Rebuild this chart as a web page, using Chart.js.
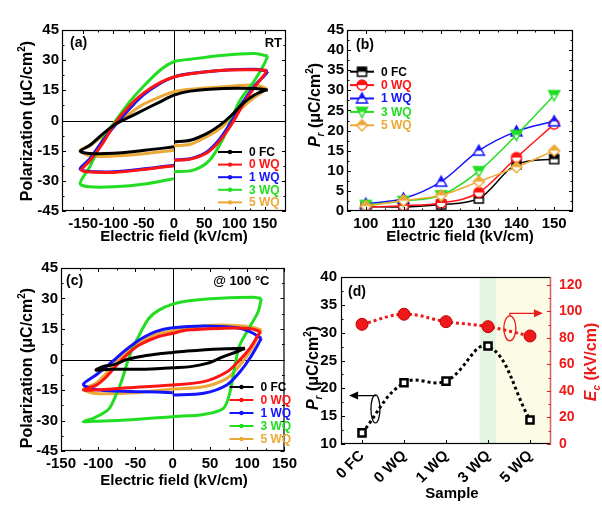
<!DOCTYPE html>
<html>
<head>
<meta charset="utf-8">
<script src="https://cdn.jsdelivr.net/npm/chart.js@4.4.0/dist/chart.umd.min.js"></script>
<style>
html, body { margin: 0; padding: 0; background: #fff; }
#wrap { position: relative; width: 602px; height: 512px; }
.p { position: absolute; width: 301px; height: 256px; }
</style>
</head>
<body>
<div id="wrap">
  <div class="p" style="left:0;top:0"><canvas id="ca" width="301" height="256"></canvas></div>
  <div class="p" style="left:301px;top:0"><canvas id="cb" width="301" height="256"></canvas></div>
  <div class="p" style="left:0;top:256px"><canvas id="cc" width="301" height="256"></canvas></div>
  <div class="p" style="left:301px;top:256px"><canvas id="cd" width="301" height="256"></canvas></div>
</div>
<script>
// ---- data ----
const sampleNames = ['0 FC', '0 WQ', '1 WQ', '3 WQ', '5 WQ'];

// (a) P-E loops at room temperature, [E (kV/cm), P (uC/cm2)]; null = break in the trace at E = 0
const rt0FC = [[155,15.2],[134,15.9],[82,15.9],[27,14.6],[0,12.6],[-23,9.3],[-51,5.1],[-73,1.8],[-95,-1.5],[-117,-6.5],[-139,-12.3],[-155,-15.3],[-139,-16.4],[-100,-16.3],[-45,-14.7],[0,-13.1],null,[0,-10.6],[27,-9.8],[54,-6.5],[76,-2.3],[95,2.6],[114,8.5],[134,12.9],[150,15],[155,15.2]];
const rt0WQ = [[153,25],[134,25.2],[82,25],[27,23.2],[0,21.6],[-23,18.8],[-51,13.5],[-73,7.5],[-98,-1.5],[-117,-11],[-139,-20],[-153,-24.5],[-145,-25.5],[-100,-25.8],[-45,-24.2],[0,-22.5],null,[0,-19.8],[27,-19.2],[54,-16.2],[76,-10],[97,-1],[114,8],[134,17],[150,23],[153,25]];
const rt1WQ = [[155,24.5],[134,25.5],[82,25],[27,23.4],[0,21.7],[-23,18.4],[-51,12.6],[-73,6],[-95,-1.5],[-117,-9.8],[-139,-19],[-155,-24],[-145,-25.2],[-100,-25.5],[-45,-23.9],[0,-22.2],null,[0,-19.6],[27,-19],[54,-15.6],[76,-9],[95,-0.5],[114,9.3],[134,17.6],[150,22.5],[155,24.5]];
const rt3WQ = [[155,32],[134,33.3],[82,32.5],[27,30.5],[0,29.2],[-23,25],[-51,16.8],[-73,9.4],[-100,-1.5],[-117,-9],[-139,-23],[-155,-31.3],[-140,-33],[-100,-33],[-45,-31.4],[0,-28.9],null,[0,-25.5],[32,-24.7],[59,-19.7],[81,-9],[93,-0.5],[109,10],[131,19],[148,27.5],[155,32]];
const rt5WQ = [[153,16],[134,17.6],[82,16.8],[27,15.5],[0,14.3],[-23,11.8],[-51,8],[-73,3.5],[-95,-1.5],[-117,-7.3],[-139,-12.5],[-155,-14.8],[-139,-17.6],[-100,-17.7],[-45,-16.4],[0,-14.8],null,[0,-12.6],[27,-11.8],[54,-8.1],[76,-4],[95,1.3],[114,6.8],[134,11.8],[150,15],[153,16]];

// (c) P-E loops at 100 C
const ht0FC = [[97,5.5],[64,5.2],[19.5,4.2],[0,3.5],[-23,2.6],[-45,1.4],[-63,-0.2],[-78,-2.4],[-94,-3.5],[-103,-5.2],[-85,-4.8],[-41,-4.8],[0,-4],[24,-3.5],[46,-1.9],[68,1.4],[86,3.8],[97,5.5]];
const ht0WQ = [[117.7,13.7],[103.5,15.3],[64,15.3],[19.5,14.5],[0,12.9],[-20,11.2],[-45,7.1],[-62,2.2],[-75,-2.7],[-89,-8.5],[-102,-12.5],[-120,-15],[-102,-15],[-62,-13.9],[0,-12.5],[41.6,-10.9],[73,-6],[90,-0.2],[103.5,5.5],[114.6,12],[117.7,13.7]];
const ht1WQ = [[119,10.4],[103.5,13.7],[86,15.6],[41.6,16.5],[0,15.6],[-23,13.7],[-45,9.6],[-63,4.7],[-76,0.6],[-89,-3.5],[-103,-7.6],[-120,-12.2],[-107,-14.5],[-85,-15.4],[-41,-15.8],[0,-16.3],null,[0,-17.5],[41.6,-16.6],[72.6,-12.5],[90.3,-6],[103.5,0.6],[119,10.4]];
const ht3WQ = [[119,30.1],[108,30.6],[64,30.1],[19.5,28.8],[0,27.2],[-18.6,24.3],[-32,20.3],[-45,12],[-54,5.5],[-60.6,-1.1],[-69,-10.9],[-78,-19],[-85,-24],[-94,-26.6],[-107,-28.9],[-120,-30.6],[-107,-30.4],[-63,-29.8],[0,-28.1],[41.6,-27],[68,-24],[77,-15.8],[83.6,-2.7],[90,7.1],[103.5,16.1],[114.6,23.5],[119,30.1]];
const ht5WQ = [[119,14.5],[103.5,16.1],[63.7,17],[19.5,15.6],[0,14],[-23,12.4],[-45,8],[-63,3],[-76,-1.4],[-89,-6.8],[-103,-11.7],[-120,-14.5],[-107,-16.6],[-63,-16.6],[0,-14.5],[41.6,-13.4],[72.6,-9.3],[90.3,-2.7],[103.5,3.8],[114.6,11.2],[119,14.5]];

// (b) Pr vs field
const fieldB = [100, 110, 120, 130, 140, 150];
const prB0FC = [1.1, 1.0, 1.6, 3.1, 11.6, 12.9];
const prB0WQ = [1.0, 1.3, 2.0, 4.6, 13.3, 21.6];
const prB1WQ = [1.8, 3.1, 7.3, 15.0, 19.8, 22.3];
const prB3WQ = [1.5, 2.5, 3.9, 9.9, 18.9, 28.8];
const prB5WQ = [1.2, 2.6, 3.9, 7.3, 10.9, 15.0];

// (d) Pr and Ec per sample
const prD = [12.0, 21.0, 21.3, 27.6, 14.3];
const ecD = [90.3, 97.9, 92.3, 88.5, 81.5];
const greenBand = [2.8, 3.2];
const yellowBand = [3.2, 4.6];

// tick labels
const fieldTicks = [-150, -100, -50, 0, 50, 100, 150];
const polTicks = [-45, -30, -15, 0, 15, 30, 45];
const fieldTicksB = [100, 110, 120, 130, 140, 150];
const prTicksB = [0, 5, 10, 15, 20, 25, 30, 35, 40, 45];
const prTicksD = [10, 15, 20, 25, 30, 35, 40];
const ecTicksD = [0, 20, 40, 60, 80, 100, 120];

// ---- styles ----
const FONT = '"Liberation Sans", Arial, sans-serif';
const cBlack = '#000000', cRed = '#ff1414', cBlue = '#1414ff', cGreen = '#22dd22', cOrange = '#eba937';
const seriesColors = [cBlack, cRed, cBlue, cGreen, cOrange];

function halfMarker(shape, color, size) {
  const s = size + 4, m = s / 2, h = size / 2;
  const c = document.createElement('canvas');
  c.width = s; c.height = s;
  const g = c.getContext('2d');
  const path = () => {
    g.beginPath();
    if (shape === 'rect') g.rect(m - h, m - h, size, size);
    else if (shape === 'circle') g.arc(m, m, h, 0, Math.PI * 2);
    else if (shape === 'tri') { g.moveTo(m, m - h); g.lineTo(m + h, m + h * 0.8); g.lineTo(m - h, m + h * 0.8); g.closePath(); }
    else if (shape === 'dtri') { g.moveTo(m, m + h); g.lineTo(m + h, m - h * 0.8); g.lineTo(m - h, m - h * 0.8); g.closePath(); }
    else { g.moveTo(m, m - h); g.lineTo(m + h, m); g.lineTo(m, m + h); g.lineTo(m - h, m); g.closePath(); }
  };
  path(); g.fillStyle = '#fff'; g.fill();
  g.save(); path(); g.clip(); g.fillStyle = color; g.fillRect(0, 0, s, m); g.restore();
  path(); g.lineWidth = 1.5; g.strokeStyle = color; g.stroke();
  return c;
}
const markersB = [halfMarker('rect', cBlack, 9), halfMarker('circle', cRed, 10), halfMarker('tri', cBlue, 11), halfMarker('dtri', cGreen, 11), halfMarker('diamond', cOrange, 11)];

function rich(ctx, parts, x, y, rot, size, color) {
  ctx.save();
  ctx.translate(x, y); ctx.rotate(rot);
  ctx.fillStyle = color; ctx.textAlign = 'left'; ctx.textBaseline = 'alphabetic';
  const small = st => st.includes('sub') || st.includes('sup');
  const fnt = st => (st.startsWith('i') ? 'italic ' : '') + 'bold ' + (small(st) ? Math.round(size * 0.65) : size) + 'px ' + FONT;
  let w = 0;
  parts.forEach(([t, st]) => { ctx.font = fnt(st); w += ctx.measureText(t).width; });
  let cx = -w / 2;
  const base = size * 0.36;
  parts.forEach(([t, st]) => {
    ctx.font = fnt(st);
    const dy = st.includes('sub') ? size * 0.25 : st.includes('sup') ? -size * 0.4 : 0;
    ctx.fillText(t, cx, base + dy);
    cx += ctx.measureText(t).width;
  });
  ctx.restore();
}

const titlePol = [['Polarization (μC/cm', ''], ['2', 'sup'], [')', '']];
const titlePr = [['P', 'i'], ['r', 'isub'], [' (μC/cm', ''], ['2', 'sup'], [')', '']];
const titleEc = [['E', 'i'], ['c', 'isub'], [' (kV/cm)', '']];
const titleField = [['Electric field (kV/cm)', '']];

function tickMarks(ctx, scale, a, horiz, minor, sides, color) {
  const v = scale.ticks.map(t => t.value);
  const pos = [];
  v.forEach((val, i) => {
    pos.push([scale.getPixelForValue(val), 4]);
    if (minor && i < v.length - 1) pos.push([scale.getPixelForValue((val + v[i + 1]) / 2), 2.5]);
  });
  ctx.strokeStyle = color; ctx.lineWidth = 1;
  ctx.beginPath();
  pos.forEach(([p, len]) => {
    p = Math.round(p) + 0.5;
    if (horiz) {
      if (sides.includes('b')) { ctx.moveTo(p, a.bottom); ctx.lineTo(p, a.bottom - len); }
      if (sides.includes('t')) { ctx.moveTo(p, a.top); ctx.lineTo(p, a.top + len); }
    } else {
      if (sides.includes('l')) { ctx.moveTo(a.left, p); ctx.lineTo(a.left + len, p); }
      if (sides.includes('r')) { ctx.moveTo(a.right, p); ctx.lineTo(a.right - len, p); }
    }
  });
  ctx.stroke();
}

const deco = {
  id: 'deco',
  beforeDatasetsDraw(chart, args, o) {
    const { ctx, chartArea: a, scales } = chart;
    ctx.save();
    (o.bands || []).forEach(b => {
      const x0 = scales.x.getPixelForValue(b.range[0]);
      const x1 = Math.min(scales.x.getPixelForValue(b.range[1]), a.right);
      ctx.fillStyle = b.color;
      ctx.fillRect(x0, a.top, x1 - x0, a.bottom - a.top);
    });
    if (o.zero) {
      const x0 = Math.round(scales.x.getPixelForValue(0)) + 0.5;
      const y0 = Math.round(scales.y.getPixelForValue(0)) + 0.5;
      ctx.strokeStyle = '#000'; ctx.lineWidth = 1;
      ctx.beginPath();
      ctx.moveTo(x0, a.top); ctx.lineTo(x0, a.bottom);
      ctx.moveTo(a.left, y0); ctx.lineTo(a.right, y0);
      ctx.stroke();
    }
    ctx.restore();
  },
  afterDatasetsDraw(chart, args, o) {
    const { ctx, chartArea: a, scales } = chart;
    ctx.save();
    // frame
    ctx.strokeStyle = '#000'; ctx.lineWidth = 1.2;
    ctx.strokeRect(a.left + 0.5, a.top + 0.5, a.right - a.left - 1, a.bottom - a.top - 1);
    if (o.rightColor) {
      ctx.strokeStyle = o.rightColor;
      ctx.beginPath(); ctx.moveTo(a.right - 0.5, a.top); ctx.lineTo(a.right - 0.5, a.bottom); ctx.stroke();
    }
    (o.ticks || []).forEach(t => tickMarks(ctx, scales[t.id], a, t.horiz, t.minor, t.sides, t.color || '#000'));
    // notes (ellipses / arrows) in data coords
    (o.notes || []).forEach(n => {
      const sx = scales.x, sy = scales[n.axis];
      const cx = sx.getPixelForValue(n.at[0]), cy = sy.getPixelForValue(n.at[1]);
      ctx.strokeStyle = n.color; ctx.fillStyle = n.color; ctx.lineWidth = 1.3;
      ctx.beginPath(); ctx.ellipse(cx, cy, n.rx, n.ry, 0, 0, Math.PI * 2); ctx.stroke();
      const ay = sy.getPixelForValue(n.arrowY), ax = sx.getPixelForValue(n.arrowX);
      ctx.beginPath();
      ctx.moveTo(cx, cy - n.ry); ctx.lineTo(cx, ay); ctx.lineTo(ax, ay); ctx.stroke();
      const d = ax > cx ? 1 : -1;
      ctx.beginPath(); ctx.moveTo(ax + d * 2, ay); ctx.lineTo(ax - d * 7, ay - 4); ctx.lineTo(ax - d * 7, ay + 4); ctx.closePath(); ctx.fill();
    });
    // axis titles
    (o.titles || []).forEach(t => rich(ctx, t.parts, t.x, t.y, t.rot || 0, t.size, t.color || '#000'));
    // panel labels
    (o.labels || []).forEach(l => {
      ctx.font = 'bold ' + l.size + 'px ' + FONT;
      ctx.fillStyle = '#000'; ctx.textBaseline = 'middle'; ctx.textAlign = l.align;
      ctx.fillText(l.text, l.right ? a.right - l.dx : a.left + l.dx, a.top + l.dy);
    });
    // legend
    const lg = o.legend;
    if (lg) {
      const x0 = lg.fromRight ? a.right - lg.dx : a.left + lg.dx;
      const y0 = lg.fromBottom ? a.bottom - lg.dy : a.top + lg.dy;
      sampleNames.forEach((name, i) => {
        const y = y0 + i * lg.step, col = seriesColors[i];
        ctx.strokeStyle = col; ctx.lineWidth = 2;
        ctx.beginPath(); ctx.moveTo(x0, y); ctx.lineTo(x0 + lg.len, y); ctx.stroke();
        if (lg.markers) {
          const m = lg.markers[i];
          ctx.drawImage(m, x0 + lg.len / 2 - m.width / 2, y - m.height / 2);
        } else {
          ctx.fillStyle = col; ctx.beginPath(); ctx.arc(x0 + lg.len / 2, y, 2.2, 0, Math.PI * 2); ctx.fill();
        }
        ctx.font = 'bold 12px ' + FONT; ctx.fillStyle = col;
        ctx.textAlign = 'left'; ctx.textBaseline = 'middle';
        ctx.fillText(name, x0 + lg.len + 7, y + 0.5);
      });
    }
    ctx.restore();
  }
};

// ---- helpers ----
const noGrid = { display: false, drawTicks: false };
const tickFont = size => ({ font: { family: FONT, size: size, weight: 'bold' }, color: '#000', maxRotation: 0, autoSkip: false });
const fixTicks = list => s => { s.ticks = list.map(v => ({ value: v })); };
const base = {
  animation: false, responsive: false, devicePixelRatio: 1,
  elements: { point: { radius: 0 } }
};

function loopSet(pts, color) {
  return { data: pts.map(p => p ? { x: p[0], y: p[1] } : { x: 0, y: null }), borderColor: color, borderWidth: 3,
           pointRadius: 0, tension: 0.3, fill: false, spanGaps: false };
}

function loopChart(id, sets, xr, area, title2, legendDy) {
  return new Chart(document.getElementById(id), {
    type: 'line',
    data: { datasets: sets.map((s, i) => loopSet(s, seriesColors[i])) },
    options: {
      ...base,
      layout: { padding: { left: area.l - 40, top: area.t, right: 301 - area.r, bottom: 256 - area.b - 22 } },
      scales: {
        x: { type: 'linear', min: xr[0], max: xr[1], afterBuildTicks: fixTicks(fieldTicks), afterFit: s => { s.height = 22; },
             grid: noGrid, border: { display: false }, ticks: { ...tickFont(15), padding: 4 } },
        y: { type: 'linear', min: -45, max: 45, afterBuildTicks: fixTicks(polTicks), afterFit: s => { s.width = 40; },
             grid: noGrid, border: { display: false }, ticks: { ...tickFont(15), padding: 3 } }
      },
      plugins: {
        legend: { display: false }, tooltip: { enabled: false },
        deco: {
          zero: true,
          ticks: [{ id: 'x', horiz: true, minor: true, sides: 'bt' }, { id: 'y', horiz: false, minor: true, sides: 'lr' }],
          titles: [
            { parts: titlePol, x: 26, y: area.yTitle, rot: -Math.PI / 2, size: 16 },
            { parts: titleField, x: (area.l + area.r) / 2, y: area.xTitle, size: 15 }
          ],
          labels: [
            { text: area.tag, dx: area.tagDx, dy: 13, align: 'left', size: 14 },
            { text: title2, dx: area.t2Dx, dy: 13, align: 'right', right: true, size: 13 }
          ],
          legend: { fromRight: true, fromBottom: true, dx: area.lgDx, dy: legendDy, step: area.lgStep, len: 24 }
        }
      }
    },
    plugins: [deco]
  });
}

// (a)
loopChart('ca', [rt0FC, rt0WQ, rt1WQ, rt3WQ, rt5WQ], [-185, 185],
  { l: 62, r: 286, t: 30, b: 211, yTitle: 121, xTitle: 236, tag: '(a)', tagDx: 8, t2Dx: 4, lgDx: 68, lgStep: 12.6 }, 'RT', 59);

// (c)
loopChart('cc', [ht0FC, ht0WQ, ht1WQ, ht3WQ, ht5WQ], [-150, 150],
  { l: 61, r: 287, t: 12, b: 195, yTitle: 112, xTitle: 224, tag: '(c)', tagDx: 5, t2Dx: 15, lgDx: 55, lgStep: 13 }, '@ 100 °C', 64);

// (b)
const prB = [prB0FC, prB0WQ, prB1WQ, prB3WQ, prB5WQ];
new Chart(document.getElementById('cb'), {
  type: 'line',
  data: {
    datasets: prB.map((arr, i) => ({
      data: arr.map((v, k) => ({ x: fieldB[k], y: v })),
      borderColor: seriesColors[i], borderWidth: 1.5,
      pointStyle: markersB[i], pointRadius: 5,
      cubicInterpolationMode: 'monotone', fill: false
    })).reverse()
  },
  options: {
    ...base,
    layout: { padding: { left: 46 - 30, top: 30, right: 301 - 272, bottom: 256 - 211 - 22 } },
    scales: {
      x: { type: 'linear', min: 95, max: 155, afterBuildTicks: fixTicks(fieldTicksB), afterFit: s => { s.height = 22; },
           grid: noGrid, border: { display: false }, ticks: { ...tickFont(15), padding: 4 } },
      y: { type: 'linear', min: 0, max: 45, afterBuildTicks: fixTicks(prTicksB), afterFit: s => { s.width = 30; },
           grid: noGrid, border: { display: false }, ticks: { ...tickFont(15), padding: 3 } }
    },
    plugins: {
      legend: { display: false }, tooltip: { enabled: false },
      deco: {
        ticks: [{ id: 'x', horiz: true, minor: true, sides: 'bt' }, { id: 'y', horiz: false, minor: true, sides: 'lr' }],
        titles: [
          { parts: titlePr, x: 13, y: 105, rot: -Math.PI / 2, size: 16 },
          { parts: titleField, x: 159, y: 236, size: 15 }
        ],
        labels: [{ text: '(b)', dx: 9, dy: 15, align: 'left', size: 14 }],
        legend: { dx: 3, dy: 41.7, step: 13.4, len: 24, markers: markersB }
      }
    }
  },
  plugins: [deco]
});

// (d)
new Chart(document.getElementById('cd'), {
  type: 'line',
  data: {
    labels: sampleNames,
    datasets: [
      { data: prD, yAxisID: 'y', borderColor: cBlack, borderWidth: 3, borderDash: [3, 3], tension: 0.4,
        pointStyle: 'rect', pointRadius: 5, pointBackgroundColor: '#fff', pointBorderColor: cBlack, pointBorderWidth: 2.5 },
      { data: ecD, yAxisID: 'y2', borderColor: '#ee1a1a', borderWidth: 3, borderDash: [3, 3], tension: 0.4,
        pointStyle: 'circle', pointRadius: 6, pointBackgroundColor: '#ee1a1a', pointBorderColor: '#c00000', pointBorderWidth: 1 }
    ]
  },
  options: {
    ...base,
    layout: { padding: { left: 40 - 30, top: 21, right: 301 - 250 - 32, bottom: 256 - 188 - 40 } },
    scales: {
      x: { type: 'category', offset: true, afterFit: s => { s.height = 40; },
           grid: noGrid, border: { display: false },
           ticks: { font: { family: FONT, size: 15, weight: 'bold' }, color: '#000', minRotation: 45, maxRotation: 45, autoSkip: false, padding: 3 } },
      y: { type: 'linear', position: 'left', min: 10, max: 40, afterBuildTicks: fixTicks(prTicksD), afterFit: s => { s.width = 30; },
           grid: noGrid, border: { display: false }, ticks: { ...tickFont(15), padding: 4 } },
      y2: { type: 'linear', position: 'right', min: 0, max: 126, afterBuildTicks: fixTicks(ecTicksD), afterFit: s => { s.width = 32; },
            grid: noGrid, border: { display: false }, ticks: { ...tickFont(14), color: '#ee1a1a', padding: 8 } }
    },
    plugins: {
      legend: { display: false }, tooltip: { enabled: false },
      deco: {
        bands: [{ range: greenBand, color: '#e3f6e1' }, { range: yellowBand, color: '#fbfbe6' }],
        rightColor: '#ee6060',
        ticks: [{ id: 'x', horiz: true, minor: false, sides: 'b' }, { id: 'y', horiz: false, minor: true, sides: 'l' },
                { id: 'y2', horiz: false, minor: true, sides: 'r', color: '#ee1a1a' }],
        notes: [
          { axis: 'y', at: [0.32, 16.3], rx: 4.5, ry: 14, arrowY: 18.7, arrowX: -0.26, color: '#000' },
          { axis: 'y2', at: [3.52, 87.3], rx: 6, ry: 12.5, arrowY: 98.6, arrowX: 4.26, color: '#ee1a1a' }
        ],
        titles: [
          { parts: titlePr, x: 11, y: 112, rot: -Math.PI / 2, size: 16 },
          { parts: titleEc, x: 289, y: 106, rot: -Math.PI / 2, size: 16, color: '#ee1a1a' },
          { parts: [['Sample', '']], x: 151, y: 237, size: 15 }
        ],
        labels: [{ text: '(d)', dx: 7, dy: 15, align: 'left', size: 14 }]
      }
    }
  },
  plugins: [deco]
});
</script>
</body>
</html>
